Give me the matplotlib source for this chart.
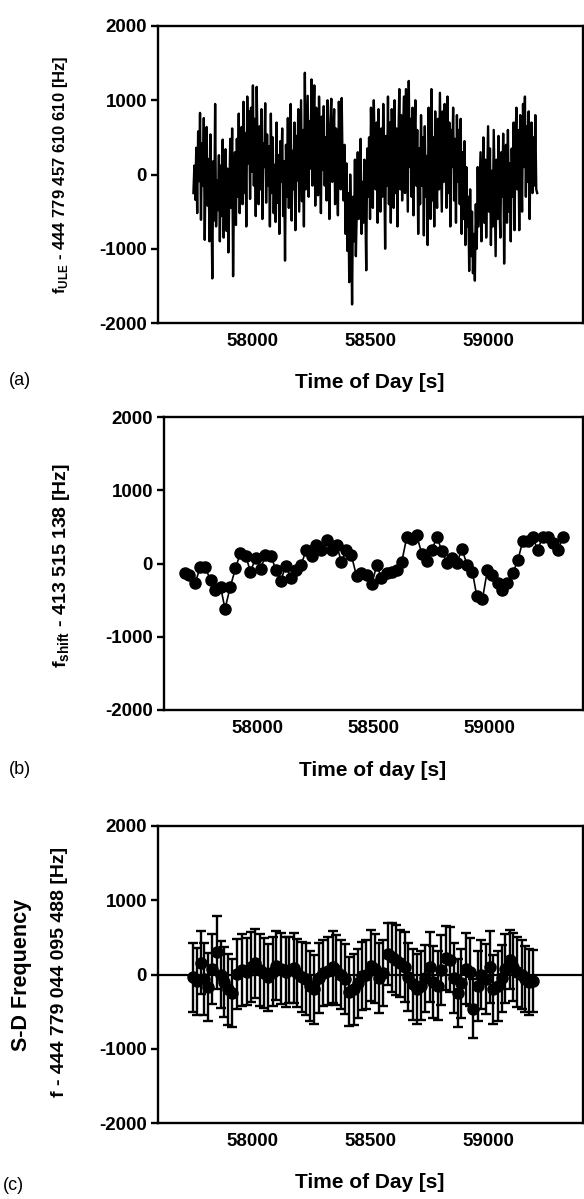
import numpy as np
import matplotlib
matplotlib.use("Agg")
import matplotlib.pyplot as plt

#(a) ULE laser beat frequency, one sample every 4 s from 57750 s
ule_t0 = 57750
ule_dt = 4
ule_hz = [
    -250, 120, -340, 360, -520, 580, -90, 830, -610, 420, -150, 760, -880, 300, 640, -420, 210, -900, 540, -300,
    -1400, 180, -620, 950, -700, -80, -480, 260, -900, 120, -560, 470, -850, -200, 340, -760, 80, -1050, -300, 480,
    -450, 620, -1370, -150, 300, -680, 480, -300, 820, -520, 200, 640, -400, 980, -250, 560, -700, 1050, 150, 850,
    -330, 900, 40, 1200, -150, 750, -560, 1180, 280, -400, 650, -200, 880, -600, 420, 100, 960, -380, 540, -150,
    380, -700, 820, -250, 500, -520, 130, -640, 700, -380, 260, -800, 450, -100, 620, -560, 180, -1160, 400, -300,
    760, -450, 180, 950, -620, 320, -200, 700, -750, 520, -80, 880, -500, 240, 1000, -360, 600, -700, 1370, -200,
    420, 1060, -300, 720, 80, 1280, -150, 600, 1200, -420, 900, 200, -280, 1050, 350, -520, 780, 60, 920, -150,
    500, -350, 1000, 260, -600, 700, 1020, -100, 450, 880, -400, 620, 150, -550, 980, 300, -200, 1030, 50, -350,
    400, -800, 150, -1030, -250, -1450, 0, -700, -1750, -300, -900, 200, -1100, -450, 300, -600, -250, 480, -800, -100,
    -650, 200, -400, -1290, 350, -300, 500, -600, 900, 100, -450, 1000, 250, -200, 700, -650, 880, 120, -500, 620,
    -300, 950, 200, -1000, 520, -150, 1050, -400, 700, -650, 880, 300, -450, 1000, -250, 620, -700, 450, 1150, -200,
    800, -350, 600, 1050, -250, 1150, 300, -500, 1260, 100, 750, -300, 900, -550, 450, 1000, -150, 600, -800, 350,
    -400, 800, -150, 500, -820, 650, -300, 250, -950, 900, 100, -600, 1150, -350, 500, -700, 850, 50, -450, 750,
    -200, 1100, 300, -500, 850, -100, 950, 200, -450, 1050, -250, 700, -700, 600, 100, 900, -350, 480, -650, 800,
    -100, 600, -400, 750, -800, 300, -600, 450, -950, 100, -700, -300, -1300, -200, -1100, -500, -1330, -800, -1430, -400,
    -1000, 100, -700, -200, 300, -900, -300, 500, -650, 200, -850, -100, 650, -500, 350, -950, 50, -700, 600, -300,
    -1100, 200, -600, 520, -400, -850, 300, -300, 550, -1200, -100, 400, -650, 600, -500, 150, -900, 350, -300, 700,
    -750, 450, 900, -200, 600, -750, 800, 200, -500, 950, 100, 1050, -300, 650, -100, 850, -600, 400, 700, -250,
    500, -150, 800, -200, -250,
]

#(b) frequency shift
shift_t = [57691, 57707, 57734, 57755, 57776, 57800, 57821, 57843, 57862, 57885,
           57907, 57928, 57952, 57971, 57994, 58016, 58035, 58061, 58080, 58101,
           58123, 58146, 58168, 58189, 58211, 58234, 58254, 58275, 58299, 58320,
           58342, 58362, 58384, 58405, 58427, 58448, 58470, 58493, 58514, 58534,
           58557, 58578, 58600, 58621, 58643, 58666, 58686, 58707, 58728, 58750,
           58773, 58794, 58816, 58838, 58859, 58880, 58902, 58925, 58944, 58968,
           58989, 59011, 59034, 59054, 59075, 59098, 59120, 59141, 59163, 59184,
           59205, 59227, 59250, 59270, 59293, 59314]
shift_hz = [-135, -162, -270, -50, -50, -225, -365, -315, -620, -315,
            -68, 144, 99, -113, 77, -72, 113, 99, -90, -239,
            -36, -194, -90, -14, 180, 99, 248, 180, 315, 180,
            248, 23, 180, 113, -171, -126, -158, -275, -23, -194,
            -126, -113, -95, 18, 360, 333, 383, 135, 32, 180,
            360, 167, 9, 77, 9, 203, -23, -117, -450, -486,
            -95, -158, -261, -365, -261, -135, 45, 302, 302, 360,
            189, 360, 360, 279, 180, 360]

#(c) S-D frequency with error bars
sd_t = [57747, 57765, 57780, 57795, 57810, 57830, 57850, 57865, 57880, 57895,
        57915, 57935, 57955, 57975, 57995, 58010, 58030, 58050, 58065, 58085,
        58100, 58120, 58140, 58155, 58175, 58190, 58210, 58225, 58245, 58260,
        58280, 58300, 58320, 58340, 58355, 58375, 58390, 58410, 58430, 58445,
        58465, 58480, 58500, 58520, 58535, 58555, 58575, 58590, 58610, 58625,
        58645, 58660, 58680, 58695, 58715, 58730, 58750, 58765, 58785, 58800,
        58820, 58835, 58855, 58870, 58885, 58905, 58920, 58935, 58955, 58970,
        58990, 59005, 59020, 59040, 59055, 59070, 59090, 59105, 59120, 59140,
        59155, 59170, 59188]
sd_hz = [-40, -90, 160, -60, -170, 70, 300, 0, -100, -200,
         -250, 10, 60, 40, 100, 150, 60, 20, -40, 40,
         120, 80, 30, 60, 90, 20, -30, -60, -160, -200,
         -50, 20, 50, 100, 60, 0, -60, -230, -200, -120,
         -20, 0, 120, 80, -50, 20, 280, 230, 200, 150,
         100, -30, -130, -200, -150, -50, 100, -100, -150, 60,
         220, 200, -50, -250, -120, 80, 30, -460, -150, 0,
         -60, 100, -200, -150, -50, 80, 200, 100, 30, 0,
         -60, -100, -90]
sd_err = [470, 450, 420, 480, 460, 470, 490, 450, 470, 480,
          460, 470, 480, 450, 470, 460, 480, 470, 450, 470,
          460, 480, 470, 450, 470, 460, 470, 480, 470, 460,
          470, 450, 460, 480, 470, 460, 470, 460, 480, 470,
          460, 470, 480, 460, 470, 450, 420, 460, 470, 450,
          470, 460, 480, 470, 460, 450, 470, 480, 460, 470,
          430, 440, 470, 460, 470, 480, 460, 400, 470, 460,
          470, 480, 460, 470, 450, 470, 400, 460, 470, 460,
          450, 440, 420]

y_ticks = [-2000, -1000, 0, 1000, 2000]
x_ticks = [58000, 58500, 59000]


def main():
    plt.rcParams["font.family"] = ["Liberation Sans", "DejaVu Sans"]
    plt.rcParams["font.weight"] = "bold"
    plt.rcParams["axes.unicode_minus"] = False  #plain hyphen like the original

    W, H = 584, 1199
    fig = plt.figure(figsize=(W / 100, H / 100), dpi=100)

    def px_axes(left, top, right, bottom):
        return fig.add_axes([left / W, 1 - bottom / H, (right - left) / W, (bottom - top) / H])

    ax_a = px_axes(158, 26, 583, 323)
    ax_b = px_axes(164, 417, 583, 710)
    ax_c = px_axes(158, 826, 583, 1123)

    for ax in (ax_a, ax_b, ax_c):
        ax.set_xlim(57600, 59400)
        ax.set_ylim(-2000, 2000)
        ax.set_yticks(y_ticks)
        ax.set_xticks(x_ticks)
        for s in ax.spines.values():
            s.set_linewidth(1.7)
        ax.tick_params(axis="y", direction="out", length=5, width=1.7, pad=3, labelsize=13.5)
        ax.tick_params(axis="x", length=0, pad=7, labelsize=13.5)

    #(a)
    ule_t = ule_t0 + ule_dt * np.arange(len(ule_hz))
    ax_a.plot(ule_t, ule_hz, color="black", lw=1.7)

    #(b)
    ax_b.plot(shift_t, shift_hz, color="black", lw=1.2, marker="o", ms=8)

    #(c)
    ax_c.axhline(0, color="black", lw=1.6)
    ax_c.errorbar(sd_t, sd_hz, yerr=sd_err, fmt="o", color="black", ms=8,
                  elinewidth=1.7, capsize=3.5, capthick=1.7)

    #y labels
    fig.text(60 / W, 1 - 175 / H, r"f$_\mathregular{ULE}$ - 444 779 457 610 610 [Hz]",
             rotation=90, ha="center", va="center", fontsize=12)
    fig.text(61 / W, 1 - 566 / H, r"f$_\mathregular{shift}$ - 413 515 138 [Hz]",
             rotation=90, ha="center", va="center", fontsize=14)
    fig.text(22 / W, 1 - 975 / H, "S-D Frequency",
             rotation=90, ha="center", va="center", fontsize=15.5)
    fig.text(59 / W, 1 - 972 / H, "f - 444 779 044 095 488 [Hz]",
             rotation=90, ha="center", va="center", fontsize=14)

    #x labels and panel letters
    fig.text(370 / W, 1 - 383 / H, "Time of Day [s]", ha="center", va="center", fontsize=15)
    fig.text(373 / W, 1 - 771 / H, "Time of day [s]", ha="center", va="center", fontsize=15)
    fig.text(370 / W, 1 - 1183 / H, "Time of Day [s]", ha="center", va="center", fontsize=15)
    fig.text(20 / W, 1 - 381 / H, "(a)", ha="center", va="center", fontsize=13, fontweight="normal")
    fig.text(20 / W, 1 - 770 / H, "(b)", ha="center", va="center", fontsize=13, fontweight="normal")
    fig.text(13 / W, 1 - 1185 / H, "(c)", ha="center", va="center", fontsize=13, fontweight="normal")

    fig.savefig("out.png", dpi=100)


if __name__ == "__main__":
    main()
